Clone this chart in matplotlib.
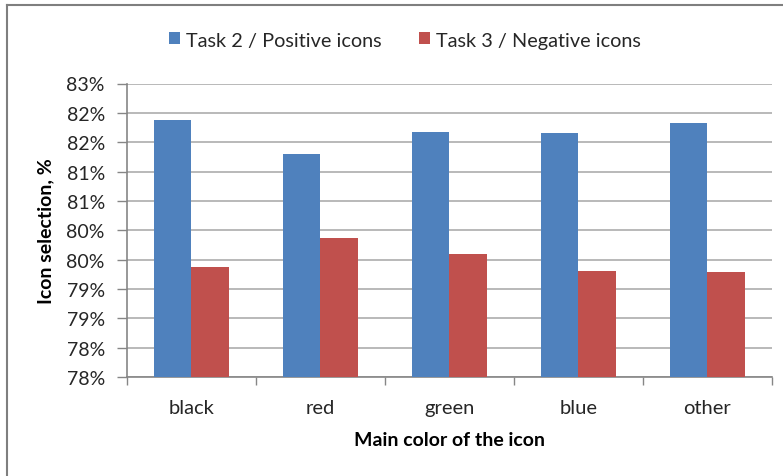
import matplotlib
matplotlib.use("Agg")
import matplotlib.pyplot as plt
from matplotlib.lines import Line2D
from matplotlib.patches import Patch
import numpy as np

plt.rcParams['font.family'] = ['Lato', 'DejaVu Sans']

categories = ["black", "red", "green", "blue", "other"]
positive = [82.38, 81.80, 82.18, 82.15, 82.32]   # Task 2 / Positive icons, %
negative = [79.87, 80.37, 80.09, 79.81, 79.79]   # Task 3 / Negative icons, %
series_names = ["Task 2 / Positive icons", "Task 3 / Negative icons"]
ytick_values = [78.0, 78.5, 79.0, 79.5, 80.0, 80.5, 81.0, 81.5, 82.0, 82.5, 83.0]
ytick_labels = ["78%", "78%", "79%", "79%", "80%", "80%", "81%", "81%", "82%", "82%", "83%"]

BLUE = "#4F81BD"
RED = "#C0504D"
GRID = "#A6A6A6"
AXIS = "#868686"
TEXT = "#262626"

fig = plt.figure(figsize=(7.83, 4.77), dpi=100)
ax = fig.add_axes([127 / 783, 1 - 378 / 477, (772 - 127) / 783, (378 - 84.5) / 477])

x = np.arange(len(categories))
w = 0.287
ax.bar(x - w / 2, positive, width=w, color=BLUE, zorder=3)
ax.bar(x + w / 2, negative, width=w, color=RED, zorder=3)

ax.set_ylim(78.0, 83.0)
ax.set_xlim(-0.5, len(categories) - 0.5)
ax.set_yticks(ytick_values)
ax.set_yticklabels(ytick_labels, fontsize=14, color=TEXT)
ax.yaxis.grid(True, color=GRID, linewidth=1.1, zorder=0)
ax.set_axisbelow(True)

# category labels centred, tick marks on the category boundaries
ax.set_xticks(x)
ax.set_xticklabels(categories, fontsize=14.5, color=TEXT)
ax.tick_params(axis='x', which='major', length=0, pad=16)
ax.set_xticks(np.arange(-0.5, len(categories)), minor=True)
ax.tick_params(axis='x', which='minor', length=6, width=1, color=AXIS, direction='out')
ax.tick_params(axis='y', length=7, width=1, color=AXIS, direction='out', pad=9)

for side in ['top', 'right']:
    ax.spines[side].set_visible(False)
for side in ['left', 'bottom']:
    ax.spines[side].set_color(AXIS)
    ax.spines[side].set_linewidth(1.2)

ax.set_ylabel("Icon selection, %", fontsize=14, fontweight='bold', color='black', labelpad=9)
ax.set_xlabel("Main color of the icon", fontsize=14, fontweight='bold', color='black', labelpad=11)

handles = [Patch(facecolor=BLUE, edgecolor='none'), Patch(facecolor=RED, edgecolor='none')]
fig.legend(handles, series_names, loc='center', bbox_to_anchor=(405 / 783, 1 - 41 / 477),
           ncol=2, frameon=False, fontsize=14.3, handlelength=0.55, handleheight=0.55,
           handletextpad=0.3, columnspacing=1.85, labelcolor=TEXT)

# chart frame edges
fig.add_artist(Line2D([7 / 783, 1.0], [1 - 6 / 477, 1 - 6 / 477], transform=fig.transFigure,
                      color='#7F7F7F', linewidth=1.5))
fig.add_artist(Line2D([7 / 783, 7 / 783], [0.0, 1 - 6 / 477], transform=fig.transFigure,
                      color='#7F7F7F', linewidth=1.5))

fig.savefig("out.png", dpi=100)
